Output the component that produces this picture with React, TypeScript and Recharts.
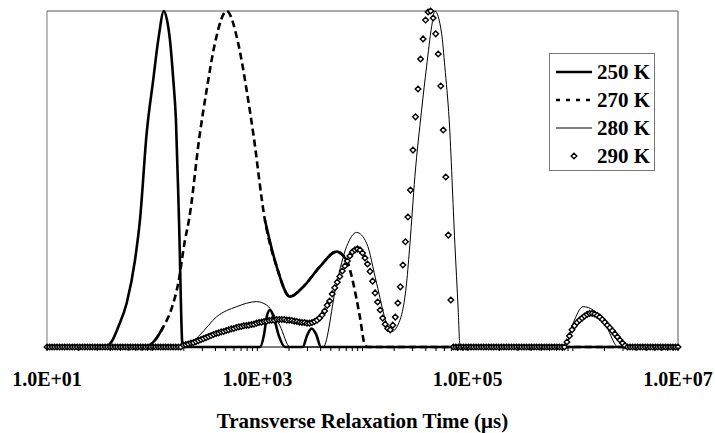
import { ComposedChart, Line, Scatter, XAxis, YAxis, ReferenceLine, Label } from "recharts";

// [log10(time / µs), normalised amplitude]
const k250 = [
  [1.0, 0], [1.551, 0], [1.618, 0.018], [1.678, 0.06], [1.758, 0.131], [1.837, 0.259],
  [1.884, 0.378], [1.948, 0.637], [2.01, 0.795], [2.058, 0.914], [2.112, 1],
  [2.141, 0.973], [2.169, 0.914], [2.201, 0.795], [2.226, 0.676], [2.255, 0.378], [2.29, 0],
  [3.025, 0], [3.063, 0.036], [3.091, 0.092], [3.12, 0.11], [3.158, 0.086], [3.205, 0.033], [3.262, 0],
  [3.433, 0], [3.471, 0.033], [3.516, 0.055], [3.557, 0.039], [3.605, 0], [7, 0],
];

const k270 = [
  [1.0, 0], [1.941, 0], [1.979, 0.006], [2.036, 0.024], [2.106, 0.06], [2.185, 0.115],
  [2.248, 0.19], [2.312, 0.318], [2.35, 0.378], [2.454, 0.636], [2.518, 0.765], [2.597, 0.904],
  [2.708, 1], [2.818, 0.904], [2.898, 0.765], [2.961, 0.636], [3.072, 0.378], [3.184, 0.239],
  [3.31, 0.15], [3.436, 0.179], [3.595, 0.239], [3.754, 0.284], [3.849, 0.259], [3.912, 0.19],
  [3.975, 0.09], [4.023, 0.006], [4.051, 0], [7, 0],
];

const k280 = [
  [1.0, 0], [2.312, 0], [2.454, 0.036], [2.613, 0.09], [2.803, 0.12], [2.993, 0.135],
  [3.088, 0.125], [3.215, 0.063], [3.31, 0], [3.626, 0], [3.754, 0.19], [3.849, 0.299],
  [3.944, 0.341], [4.039, 0.309], [4.134, 0.19], [4.229, 0.071], [4.277, 0.046], [4.356, 0.08],
  [4.419, 0.19], [4.451, 0.307], [4.498, 0.507], [4.562, 0.705], [4.609, 0.834], [4.657, 0.953],
  [4.688, 1], [4.752, 0.934], [4.783, 0.834], [4.824, 0.676], [4.878, 0.309], [4.91, 0.11],
  [4.926, 0.006], [4.94, 0], [5.924, 0], [6.003, 0.071], [6.098, 0.12], [6.193, 0.11],
  [6.32, 0.06], [6.431, 0], [7, 0],
];

// 290 K is sampled on an even log grid starting at 1e1
const k290Start = 1;
const k290Step = 0.024;
const k290 = [
  0, 0, 0, 0, 0, 0, 0, 0, 0, 0,
  0, 0, 0, 0, 0, 0, 0, 0, 0, 0,
  0, 0, 0, 0, 0, 0, 0, 0, 0, 0,
  0, 0, 0, 0, 0, 0, 0, 0, 0, 0,
  0, 0, 0, 0, 0, 0, 0, 0, 0, 0,
  0, 0, 0, 0, 0.006, 0.007, 0.009, 0.012, 0.013, 0.016,
  0.019, 0.022, 0.025, 0.028, 0.031, 0.034, 0.037, 0.04, 0.042, 0.045,
  0.046, 0.049, 0.051, 0.054, 0.055, 0.058, 0.06, 0.061, 0.063, 0.064,
  0.065, 0.067, 0.068, 0.071, 0.073, 0.074, 0.076, 0.077, 0.079, 0.08,
  0.08, 0.082, 0.082, 0.082, 0.082, 0.08, 0.08, 0.079, 0.077, 0.076,
  0.074, 0.073, 0.073, 0.071, 0.071, 0.073, 0.076, 0.08, 0.086, 0.095,
  0.107, 0.124, 0.137, 0.158, 0.176, 0.193, 0.21, 0.226, 0.241, 0.256,
  0.271, 0.283, 0.289, 0.292, 0.289, 0.28, 0.265, 0.247, 0.225, 0.196,
  0.161, 0.134, 0.11, 0.086, 0.068, 0.055, 0.051, 0.065, 0.089, 0.131,
  0.179, 0.244, 0.313, 0.387, 0.467, 0.586, 0.685, 0.768, 0.857, 0.917,
  0.973, 0.997, 1.0, 0.979, 0.932, 0.872, 0.777, 0.646, 0.506, 0.333,
  0.14, 0, 0, 0, 0, 0, 0, 0, 0, 0,
  0, 0, 0, 0, 0, 0, 0, 0, 0, 0,
  0, 0, 0, 0, 0, 0, 0, 0, 0, 0,
  0, 0, 0, 0, 0, 0, 0, 0, 0, 0,
  0, 0, 0, 0, 0, 0, 0.015, 0.033, 0.051, 0.063,
  0.073, 0.08, 0.086, 0.092, 0.097, 0.1, 0.1, 0.098, 0.094, 0.089,
  0.082, 0.074, 0.065, 0.057, 0.048, 0.039, 0.03, 0.021, 0.012, 0.004,
  0, 0, 0, 0, 0, 0, 0, 0, 0, 0,
  0, 0, 0, 0, 0, 0, 0, 0, 0, 0,
  0,
];

const majorTicks = [1e1, 1e3, 1e5, 1e7];
const decades = [1e1, 1e2, 1e3, 1e4, 1e5, 1e6];
const minorSteps = [1, 2, 3, 4, 5, 6, 7, 8, 9];
const axisTicks = [...decades.flatMap((d) => minorSteps.map((m) => d * m)), 1e7];

const toPoints = (pts: number[][]) => pts.map(([e, v]) => ({ x: 10 ** e, v }));
const d250 = toPoints(k250);
const d270 = toPoints(k270);
// old Excel restarts the dash on every segment, so the flat parts look solid
const d270low = toPoints(k270.filter(([e]) => e <= 2.11));
const d270mid = toPoints(k270.filter(([e]) => e >= 3.07 && e <= 3.85));
const d280 = toPoints(k280);
const d290 = k290.map((v, i) => ({ x: 10 ** (k290Start + i * k290Step), v }));

const FONT = "'Liberation Serif', 'Times New Roman', serif";
const W = 715;
const H = 433;

const fmt = (v: number) => {
  const [m, ex] = v.toExponential(1).split("e");
  const n = Number(ex);
  return `${m.toUpperCase()}E${n < 0 ? "-" : "+"}${String(Math.abs(n)).padStart(2, "0")}`;
};

const AxisTick = ({ x, y, payload }: any) => {
  const major = majorTicks.includes(payload.value);
  return (
    <g>
      <line x1={x} x2={x} y1={y} y2={y + 4} stroke="#000" strokeWidth={1} />
      {major && (
        <text x={x} y={y + 39} textAnchor="middle" fontFamily={FONT} fontWeight="bold" fontSize={20} fill="#000">
          {fmt(payload.value)}
        </text>
      )}
    </g>
  );
};

const Diamond = ({ cx, cy }: any) => {
  if (cx == null || cy == null) return null;
  const r = 2.8;
  return (
    <path
      d={`M${cx},${cy - r}L${cx + r},${cy}L${cx},${cy + r}L${cx - r},${cy}Z`}
      fill="#fff"
      stroke="#000"
      strokeWidth={1.4}
    />
  );
};

const LegendRow = ({ kind, label }: { kind: string; label: string }) => (
  <div style={{ display: "flex", alignItems: "center", height: 28 }}>
    <svg width={36} height={28} style={{ marginLeft: 6, display: "block" }}>
      {kind === "thick" && <line x1={0} x2={36} y1={14} y2={14} stroke="#000" strokeWidth={2.6} />}
      {kind === "dash" && (
        <line x1={0} x2={36} y1={14} y2={14} stroke="#000" strokeWidth={2.6} strokeDasharray="4 6" />
      )}
      {kind === "thin" && <line x1={0} x2={36} y1={14} y2={14} stroke="#000" strokeWidth={1} />}
      {kind === "diamond" && <Diamond cx={18} cy={14} />}
    </svg>
    <span
      style={{ marginLeft: 5, fontFamily: FONT, fontWeight: "bold", fontSize: 21, color: "#000", lineHeight: "28px" }}
    >
      {label}
    </span>
  </div>
);

export default function App() {
  return (
    <div style={{ position: "fixed", left: 0, top: 0, width: W, height: H, background: "#fff" }}>
      <ComposedChart width={W} height={H} margin={{ top: 11, right: 37, bottom: 0, left: 47 }}>
        <XAxis
          dataKey="x"
          type="number"
          scale="log"
          domain={[10, 1e7]}
          ticks={axisTicks}
          interval={0}
          tick={<AxisTick />}
          tickLine={false}
          tickSize={0}
          tickMargin={0}
          axisLine={{ stroke: "#000", strokeWidth: 1 }}
          height={86}
        >
          <Label
            value="Transverse Relaxation Time (μs)"
            position="insideBottom"
            offset={5}
            fill="#000"
            fontFamily={FONT}
            fontWeight="bold"
            fontSize={21}
          />
        </XAxis>
        <YAxis hide type="number" domain={[0, 1]} width={0} />
        <ReferenceLine y={1} stroke="#555" strokeWidth={1} />
        <ReferenceLine x={10} stroke="#777" strokeWidth={1} />
        <ReferenceLine x={1e7} stroke="#555" strokeWidth={1} />
        <Line data={d280} dataKey="v" type="monotone" stroke="#000" strokeWidth={1} dot={false} isAnimationActive={false} />
        <Line data={d250} dataKey="v" type="monotone" stroke="#000" strokeWidth={2.6} dot={false} isAnimationActive={false} />
        <Line
          data={d270}
          dataKey="v"
          type="monotone"
          stroke="#000"
          strokeWidth={2.6}
          strokeDasharray="7 4"
          dot={false}
          isAnimationActive={false}
        />
        <Line data={d270low} dataKey="v" type="monotone" stroke="#000" strokeWidth={2.6} dot={false} isAnimationActive={false} />
        <Line data={d270mid} dataKey="v" type="monotone" stroke="#000" strokeWidth={2.6} dot={false} isAnimationActive={false} />
        <Scatter data={d290} dataKey="v" shape={<Diamond />} isAnimationActive={false} />
      </ComposedChart>

      <div
        style={{
          position: "absolute",
          left: 549,
          top: 53,
          width: 104,
          height: 112,
          border: "1px solid #777",
          background: "#fff",
          paddingTop: 4,
          boxSizing: "content-box",
        }}
      >
        <LegendRow kind="thick" label="250 K" />
        <LegendRow kind="dash" label="270 K" />
        <LegendRow kind="thin" label="280 K" />
        <LegendRow kind="diamond" label="290 K" />
      </div>
    </div>
  );
}
